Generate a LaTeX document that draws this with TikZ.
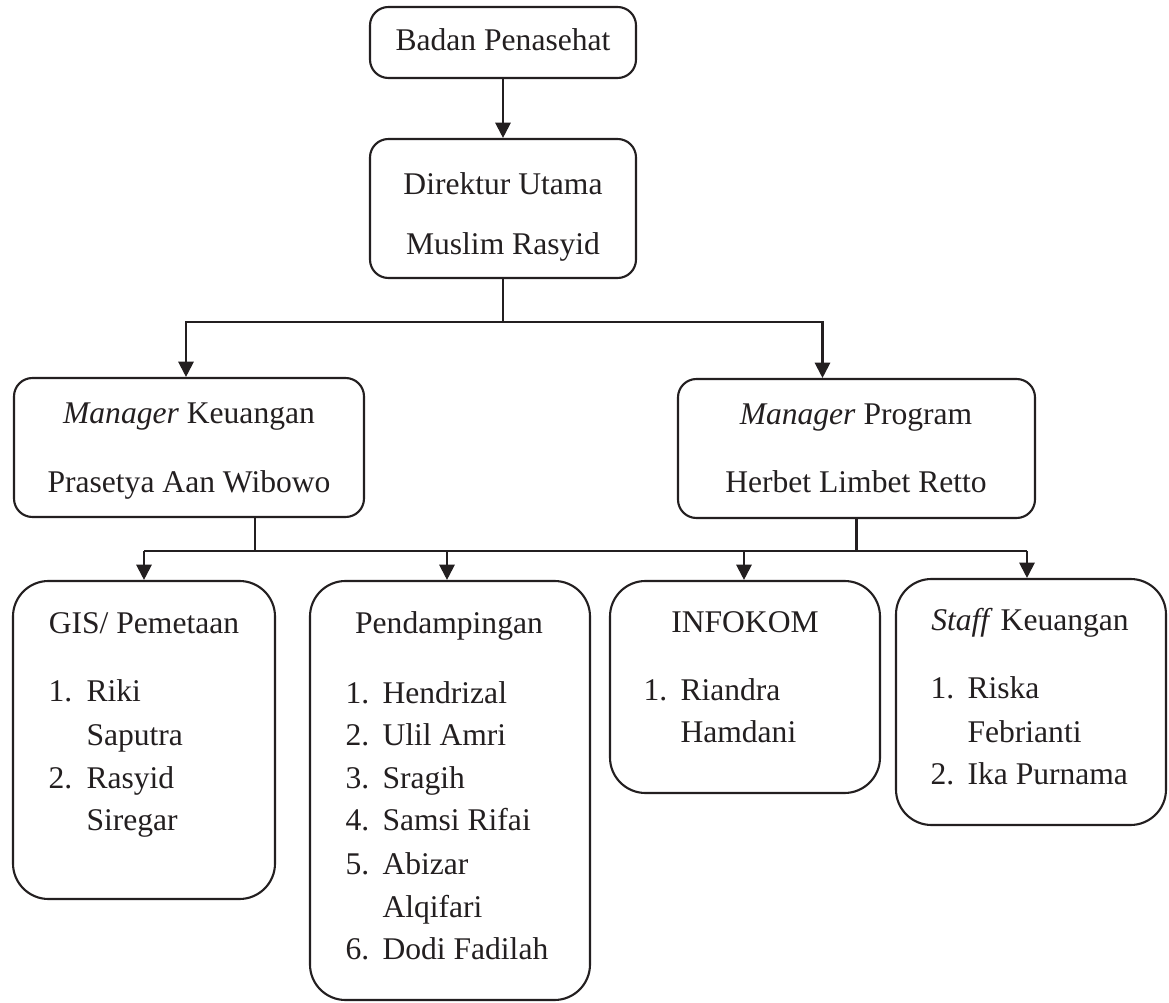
\documentclass[tikz,border=0pt]{standalone}
\usepackage{fontspec}
\setmainfont{Liberation Serif}
\usetikzlibrary{arrows.meta}
\def\u{0.38pt}
\definecolor{ink}{HTML}{231F20}
\tikzset{
  box/.style={draw=ink, line width=0.8pt, inner sep=0pt},
  topbox/.style={box, rounded corners=7pt},
  lowbox/.style={box, rounded corners=13.5pt},
  txt/.style={inner sep=0pt, text=ink, anchor=base, font=\fontsize{12pt}{14pt}\selectfont},
  ltxt/.style={txt, anchor=base west},
  con/.style={draw=ink, line width=0.8pt},
  arr/.style={con, -{Triangle[length=5.8pt,width=5.8pt]}}
}
\begin{document}
\begin{tikzpicture}[x=\u, y=-\u]
\fill[white] (0,0) rectangle (1169,1003);
\useasboundingbox (0,0) rectangle (1169,1003);

% boxes
\node[topbox, minimum width=266*\u, minimum height=71*\u]  (badan) at (503,42.5) {};
\node[topbox, minimum width=266*\u, minimum height=139*\u] (dir)   at (503,208.5) {};
\node[topbox, minimum width=350*\u, minimum height=139*\u] (mk)    at (189,447.5) {};
\node[topbox, minimum width=357*\u, minimum height=139*\u] (mp)    at (856.5,448.5) {};
\node[lowbox, minimum width=262*\u, minimum height=318*\u] (gis)   at (144,740) {};
\node[lowbox, minimum width=280*\u, minimum height=419*\u] (pend)  at (450,790.5) {};
\node[lowbox, minimum width=270*\u, minimum height=212*\u] (info)  at (745,687) {};
\node[lowbox, minimum width=270*\u, minimum height=246*\u] (staff) at (1031,702) {};

% texts
\node[txt] (tbadan) at (503,51) {Badan Penasehat};
\node[txt] (tdir1) at (503,195) {Direktur Utama};
\node[txt] (tdir2) at (503,255) {Muslim Rasyid};
\node[txt] (tmk1) at (189,423) {\textit{Manager} Keuangan};
\node[txt] (tmk2) at (189,493) {Prasetya Aan Wibowo};
\node[txt] (tmp1) at (856,425) {\textit{Manager} Program};
\node[txt] (tmp2) at (856,493) {Herbet Limbet Retto};

\node[txt] (tgis) at (144,633) {GIS/ Pemetaan};
\node[ltxt] (g1n) at (48,702) {1.};  \node[ltxt] (g1) at (86,702) {Riki};
\node[ltxt] (g1b) at (86,745) {Saputra};
\node[ltxt] (g2n) at (48,788) {2.};  \node[ltxt] (g2) at (86,788) {Rasyid};
\node[ltxt] (g2b) at (86,830) {Siregar};

\node[txt] (tpend) at (449,633) {Pendampingan};
\node[ltxt] (p1n) at (345,703) {1.}; \node[ltxt] (p1) at (382,703) {Hendrizal};
\node[ltxt] (p2n) at (345,745) {2.}; \node[ltxt] (p2) at (382,745) {Ulil Amri};
\node[ltxt] (p3n) at (345,788) {3.}; \node[ltxt] (p3) at (382,788) {Sragih};
\node[ltxt] (p4n) at (345,831) {4.}; \node[ltxt] (p4) at (382,831) {Samsi Rifai};
\node[ltxt] (p5n) at (345,874) {5.}; \node[ltxt] (p5) at (382,874) {Abizar};
\node[ltxt] (p5b) at (382,917) {Alqifari};
\node[ltxt] (p6n) at (345,959) {6.}; \node[ltxt] (p6) at (382,959) {Dodi Fadilah};

\node[txt] (tinfo) at (745,632) {INFOKOM};
\node[ltxt] (i1n) at (643,700) {1.}; \node[ltxt] (i1) at (680,700) {Riandra};
\node[ltxt] (i1b) at (680,743) {Hamdani};

\node[txt] (tstaff) at (1030,631) {\textit{Staff} Keuangan};
\node[ltxt] (s1n) at (930,699) {1.}; \node[ltxt] (s1) at (967,699) {Riska};
\node[ltxt] (s1b) at (967,742) {Febrianti};
\node[ltxt] (s2n) at (930,784) {2.}; \node[ltxt] (s2) at (967,784) {Ika Purnama};

% connectors
\draw[arr] (badan.south) -- (dir.north);
\coordinate (j1) at (503,322);
\draw[con] (dir.south) -- (j1);
\draw[arr] (j1) -| ([xshift=-3*\u]mk.north);
\draw[arr] (j1) -| ([xshift=-34*\u]mp.north);

\coordinate (bus) at (0,551);
\draw[con] ([xshift=66*\u]mk.south) -- ([xshift=66*\u]mk.south |- bus);
\draw[con] (mp.south) -- (mp.south |- bus);
\draw[con] (gis.north |- bus) -- ([xshift=-4*\u]staff.north |- bus);
\draw[arr] (gis.north |- bus) -- (gis.north);
\draw[arr] ([xshift=-3*\u]pend.north |- bus) -- ([xshift=-3*\u]pend.north);
\draw[arr] ([xshift=-1*\u]info.north |- bus) -- ([xshift=-1*\u]info.north);
\draw[arr] ([xshift=-4*\u]staff.north |- bus) -- ([xshift=-4*\u]staff.north);
\end{tikzpicture}
\end{document}
